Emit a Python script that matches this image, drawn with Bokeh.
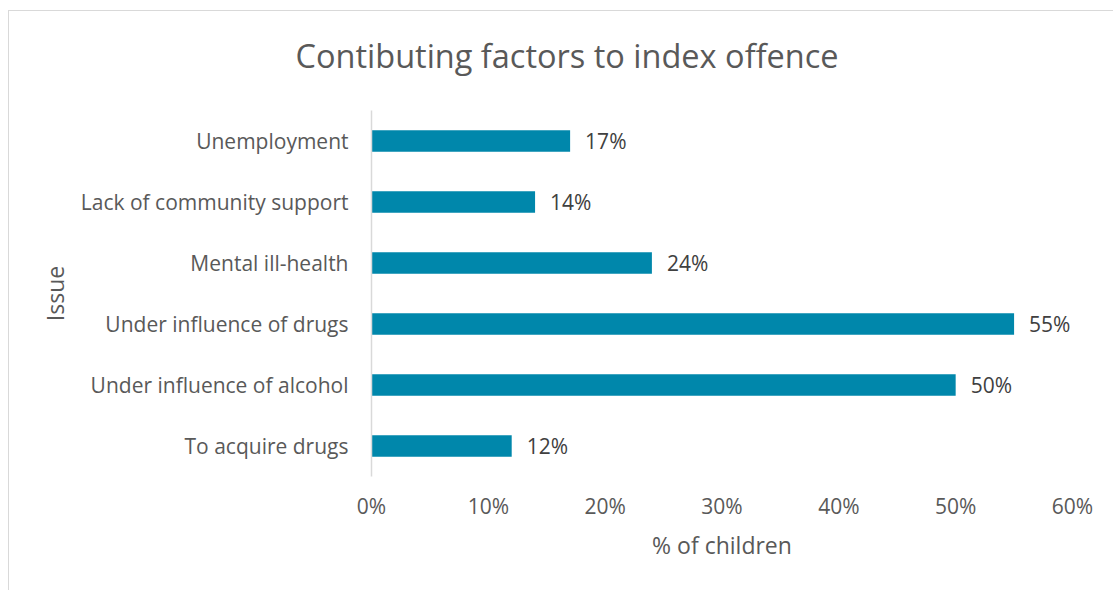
from bokeh.plotting import figure
from bokeh.models import Range1d, FactorRange, FixedTicker, NumeralTickFormatter, ColumnDataSource, Title
from bokeh.core.properties import value
from bokeh.embed import file_html
from bokeh.resources import INLINE

categories = ["Unemployment", "Lack of community support", "Mental ill-health",
              "Under influence of drugs", "Under influence of alcohol", "To acquire drugs"]
values = [0.17, 0.14, 0.24, 0.55, 0.50, 0.12]
value_labels = ["17%", "14%", "24%", "55%", "50%", "12%"]
x_ticks = [0, 0.1, 0.2, 0.3, 0.4, 0.5, 0.6]

FONT = "Open Sans"
GREY = "#595959"

src = ColumnDataSource(dict(cat=categories, val=values, lab=value_labels))

p = figure(width=1105, height=590, output_backend="svg", toolbar_location=None,
           y_range=FactorRange(factors=list(reversed(categories)), range_padding=0),
           x_range=Range1d(0, 0.6),
           min_border_left=363, min_border_right=41, min_border_top=110, min_border_bottom=114)
p.styles = {
    "margin-left": "8px",
    "background-image": "linear-gradient(#D9D9D9, #D9D9D9), linear-gradient(#D9D9D9, #D9D9D9)",
    "background-size": "100% 1px, 1px 100%",
    "background-position": "0 10px, 0 10px",
    "background-repeat": "no-repeat, no-repeat",
}
p.outline_line_color = None
p.grid.grid_line_color = None
p.background_fill_color = "white"
p.border_fill_color = None

p.hbar(y="cat", right="val", left=0, height=0.35, source=src, fill_color="#0087AB", line_color=None)
p.text(x="val", y="cat", text="lab", source=src, x_offset=15, text_baseline="middle",
       text_align="left", text_font=value(FONT), text_font_size="21px", text_color="#404040")

# x axis
xa = p.xaxis[0]
xa.ticker = FixedTicker(ticks=x_ticks)
xa.formatter = NumeralTickFormatter(format="0%")
xa.axis_line_color = None
xa.major_tick_line_color = None
xa.minor_tick_line_color = None
xa.major_tick_out = 0
xa.major_label_standoff = 15
xa.major_label_text_font = FONT
xa.major_label_text_font_size = "21px"
xa.major_label_text_color = GREY
xa.axis_label = "% of children"
xa.axis_label_text_font = FONT
xa.axis_label_text_font_size = "23px"
xa.axis_label_text_font_style = "normal"
xa.axis_label_text_color = GREY
xa.axis_label_standoff = 6

# y axis
ya = p.yaxis[0]
ya.axis_line_color = "#D9D9D9"
ya.axis_line_width = 1.5
ya.major_tick_line_color = None
ya.minor_tick_line_color = None
ya.major_tick_out = 0
ya.major_label_standoff = 23
ya.major_label_text_font = FONT
ya.major_label_text_font_size = "21px"
ya.major_label_text_color = GREY
ya.axis_label = "Issue"
ya.axis_label_text_font = FONT
ya.axis_label_text_font_size = "23px"
ya.axis_label_text_font_style = "normal"
ya.axis_label_text_color = GREY
ya.axis_label_standoff = 7

title = Title(text="Contibuting factors to index offence", align="left", offset=-76,
              vertical_align="top",
              text_font=FONT, text_font_size="32.5px", text_font_style="normal",
              text_color=GREY, standoff=61)
p.add_layout(title, "above")

open("out.html", "w").write(file_html(p, INLINE))
